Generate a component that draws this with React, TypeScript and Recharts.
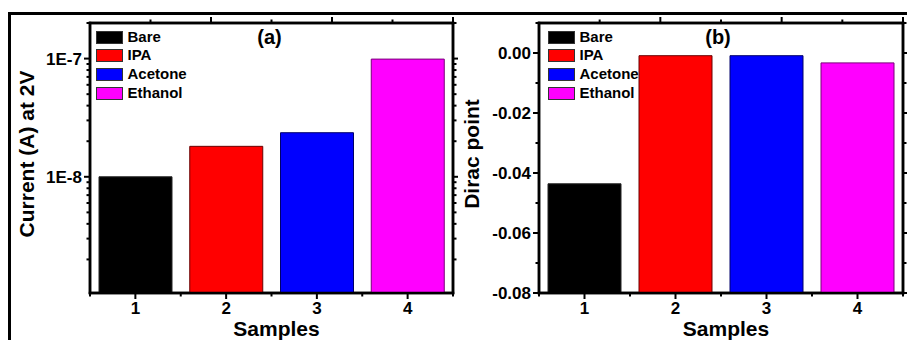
import React from 'react';
import { BarChart, Bar, XAxis, YAxis, Cell, Legend, ReferenceArea } from 'recharts';

// Samples and legend entries
const samples = [1, 2, 3, 4];
const sampleNames = ['Bare', 'IPA', 'Acetone', 'Ethanol'];
const sampleColors = ['#000000', '#ff0000', '#0000ff', '#ff00ff'];
const sampleEdges = ['#222222', '#6a0000', '#00006a', '#7a007a'];

// Panel (a): current at 2V (log axis)
const currentAt2V = [1.0e-8, 1.81e-8, 2.36e-8, 9.9e-8];
const currentDomain = [1.04e-9, 2e-7];
const currentTicks = [
  2e-9, 3e-9, 4e-9, 5e-9, 6e-9, 7e-9, 8e-9, 9e-9,
  1e-8, 2e-8, 3e-8, 4e-8, 5e-8, 6e-8, 7e-8, 8e-8, 9e-8,
  1e-7, 2e-7,
];
const currentMajor = [1e-8, 1e-7];
const currentLabels = ['1E-8', '1E-7'];

// Panel (b): Dirac point
const diracPoint = [-0.0436, -0.0009, -0.0009, -0.0033];
const diracDomain = [-0.08, 0.01];
const diracTicks = [-0.08, -0.07, -0.06, -0.05, -0.04, -0.03, -0.02, -0.01, 0, 0.01];

const xTicks = [0.5, 1, 1.5, 2, 2.5, 3, 3.5, 4, 4.5];
const xDomain = [0.5, 4.5];

const currentData = samples.map((s, i) => ({ sample: s, name: sampleNames[i], current: currentAt2V[i] }));
const diracData = samples.map((s, i) => ({ sample: s, name: sampleNames[i], dirac: [diracDomain[0], diracPoint[i]] }));

const FONT = '"Liberation Sans", Arial, Helvetica, sans-serif';
const AXIS_LINE = { stroke: '#000', strokeWidth: 2.5, strokeLinecap: 'square' as const };

const makeXTick = (side: 'top' | 'bottom') => (props: any) => {
  const { x, y, payload } = props;
  const major = samples.includes(payload.value);
  const len = major ? 6 : 3.5;
  const d = side === 'top' ? -1 : 1;
  return (
    <g>
      <line x1={x} x2={x} y1={y} y2={y + d * len} stroke="#000" strokeWidth={2} />
      {side === 'bottom' && major && (
        <text x={x} y={y + 21} textAnchor="middle" fontFamily={FONT} fontWeight="bold" fontSize={17} fill="#000">
          {payload.value}
        </text>
      )}
    </g>
  );
};

const makeYTick = (
  side: 'left' | 'right',
  isMajor: (v: number) => boolean,
  format: (v: number) => string
) => (props: any) => {
  const { x, y, payload } = props;
  const v = payload.value;
  const major = isMajor(v);
  const len = major ? 6 : 3.5;
  const d = side === 'left' ? -1 : 1;
  return (
    <g>
      <line x1={x} x2={x + d * len} y1={y} y2={y} stroke="#000" strokeWidth={2} />
      {side === 'left' && major && (
        <text x={x - 8} y={y} dy="0.36em" textAnchor="end" fontFamily={FONT} fontWeight="bold" fontSize={17} fill="#000">
          {format(v)}
        </text>
      )}
    </g>
  );
};

const isCurrentMajor = (v: number) => currentMajor.some((m) => Math.abs(m - v) / m < 1e-6);
const formatCurrent = (v: number) => currentLabels[currentMajor.findIndex((m) => Math.abs(m - v) / m < 1e-6)];
const isDiracMajor = (v: number) => Math.round(v * 100) % 2 === 0 && v <= 0;
const formatDirac = (v: number) => (Math.abs(v) < 1e-9 ? '0.00' : v.toFixed(2));

const xTitle = (props: any) => {
  const { viewBox } = props;
  return (
    <text x={viewBox.x + viewBox.width / 2 + 5} y={viewBox.y + 43} textAnchor="middle" fontFamily={FONT} fontWeight="bold" fontSize={21} fill="#000">
      Samples
    </text>
  );
};

const yTitle = (text: string, bx: number) => (props: any) => {
  const { viewBox } = props;
  const cy = viewBox.y + viewBox.height / 2 - 4;
  return (
    <text x={bx} y={cy} transform={`rotate(-90 ${bx} ${cy})`} textAnchor="middle" fontFamily={FONT} fontWeight="bold" fontSize={21} fill="#000">
      {text}
    </text>
  );
};

const legendContent = () => (
  <div style={{ fontFamily: FONT, fontWeight: 'bold', fontSize: 15, color: '#000' }}>
    {sampleNames.map((n, i) => (
      <div key={n} style={{ display: 'flex', alignItems: 'center', height: 18.7 }}>
        <span
          style={{
            display: 'inline-block',
            width: 27,
            height: 13,
            background: sampleColors[i],
            border: '1px solid #333',
            boxSizing: 'border-box',
            marginRight: 4.5,
          }}
        />
        <span style={{ lineHeight: '18.7px' }}>{n}</span>
      </div>
    ))}
  </div>
);

const panelLabel = (text: string, left: number) => (
  <div
    style={{
      position: 'absolute',
      left,
      top: 19,
      width: 40,
      textAlign: 'center',
      fontFamily: FONT,
      fontWeight: 'bold',
      fontSize: 20,
      lineHeight: '20px',
    }}
  >
    {text}
  </div>
);

const axisCommon = {
  interval: 0 as const,
  allowDataOverflow: true,
  tickSize: 0,
  tickMargin: 0,
  tickLine: false,
  axisLine: AXIS_LINE,
};

// make the page box cover the whole 907x340 window so nothing on the edges is cut
const fillPage = (el: HTMLDivElement | null) => {
  if (!el) return;
  document.body.style.margin = '0';
  if (el.parentElement) el.parentElement.style.width = '907px';
};

const App: React.FC = () => {
  return (
    <div ref={fillPage} style={{ position: 'relative', width: 907, height: 340, background: '#fff' }}>
      <div style={{ position: 'absolute', left: 8, top: 8, width: 899, height: 332 }}>
        <div
          style={{
            position: 'absolute',
            left: 0,
            top: 4,
            width: 899,
            height: 328,
            boxSizing: 'border-box',
            borderTop: '3px solid #000',
            borderLeft: '3px solid #000',
          }}
        />
        <div style={{ position: 'absolute', left: 0, top: 0 }}>
          <BarChart width={450} height={332} data={currentData} margin={{ top: 14, right: 4, bottom: 0, left: 0 }}>
            <XAxis
              {...axisCommon}
              xAxisId="bottom"
              dataKey="sample"
              type="number"
              domain={xDomain}
              ticks={xTicks}
              height={47}
              tick={makeXTick('bottom')}
              label={{ content: xTitle }}
            />
            <XAxis
              {...axisCommon}
              xAxisId="top"
              orientation="top"
              type="number"
              domain={xDomain}
              ticks={xTicks}
              height={1}
              tick={makeXTick('top')}
            />
            <YAxis
              {...axisCommon}
              yAxisId="left"
              type="number"
              scale="log"
              domain={currentDomain}
              ticks={currentTicks}
              width={82}
              tick={makeYTick('left', isCurrentMajor, formatCurrent)}
              label={{ content: yTitle('Current (A) at 2V', 26) }}
            />
            <YAxis
              {...axisCommon}
              yAxisId="right"
              orientation="right"
              type="number"
              scale="log"
              domain={currentDomain}
              ticks={currentTicks}
              width={1}
              tick={makeYTick('right', isCurrentMajor, formatCurrent)}
            />
            <ReferenceArea
              xAxisId="bottom"
              yAxisId="left"
              x1={xDomain[0]}
              x2={xDomain[1]}
              y1={currentDomain[0]}
              y2={currentDomain[1]}
              fill="#fff"
              fillOpacity={0}
              stroke="#000"
              strokeWidth={2.5}
              ifOverflow="visible"
            />
            <Legend
              layout="horizontal"
              align="center"
              verticalAlign="middle"
              content={legendContent}
              wrapperStyle={{ left: 88, top: 19.8, width: 'auto', height: 'auto' }}
            />
            <Bar xAxisId="bottom" yAxisId="left" dataKey="current" barSize={73} isAnimationActive={false}>
              {currentData.map((d, i) => (
                <Cell key={d.name} fill={sampleColors[i]} stroke={sampleEdges[i]} strokeWidth={1} />
              ))}
            </Bar>
          </BarChart>
        </div>
        {panelLabel('(a)', 241.5)}
        <div style={{ position: 'absolute', left: 450, top: 0 }}>
          <BarChart width={449} height={332} data={diracData} margin={{ top: 14, right: 3, bottom: 0, left: 0 }}>
            <XAxis
              {...axisCommon}
              xAxisId="bottom"
              dataKey="sample"
              type="number"
              domain={xDomain}
              ticks={xTicks}
              height={47}
              tick={makeXTick('bottom')}
              label={{ content: xTitle }}
            />
            <XAxis
              {...axisCommon}
              xAxisId="top"
              orientation="top"
              type="number"
              domain={xDomain}
              ticks={xTicks}
              height={1}
              tick={makeXTick('top')}
            />
            <YAxis
              {...axisCommon}
              yAxisId="left"
              type="number"
              domain={diracDomain}
              ticks={diracTicks}
              width={81}
              tick={makeYTick('left', isDiracMajor, formatDirac)}
              label={{ content: yTitle('Dirac point', 21) }}
            />
            <YAxis
              {...axisCommon}
              yAxisId="right"
              orientation="right"
              type="number"
              domain={diracDomain}
              ticks={diracTicks}
              width={1}
              tick={makeYTick('right', isDiracMajor, formatDirac)}
            />
            <ReferenceArea
              xAxisId="bottom"
              yAxisId="left"
              x1={xDomain[0]}
              x2={xDomain[1]}
              y1={diracDomain[0]}
              y2={diracDomain[1]}
              fill="#fff"
              fillOpacity={0}
              stroke="#000"
              strokeWidth={2.5}
              ifOverflow="visible"
            />
            <Legend
              layout="horizontal"
              align="center"
              verticalAlign="middle"
              content={legendContent}
              wrapperStyle={{ left: 90, top: 19.8, width: 'auto', height: 'auto' }}
            />
            <Bar xAxisId="bottom" yAxisId="left" dataKey="dirac" barSize={73} isAnimationActive={false}>
              {diracData.map((d, i) => (
                <Cell key={d.name} fill={sampleColors[i]} stroke={sampleEdges[i]} strokeWidth={1} />
              ))}
            </Bar>
          </BarChart>
        </div>
        {panelLabel('(b)', 690)}
      </div>
    </div>
  );
};

export default App;
